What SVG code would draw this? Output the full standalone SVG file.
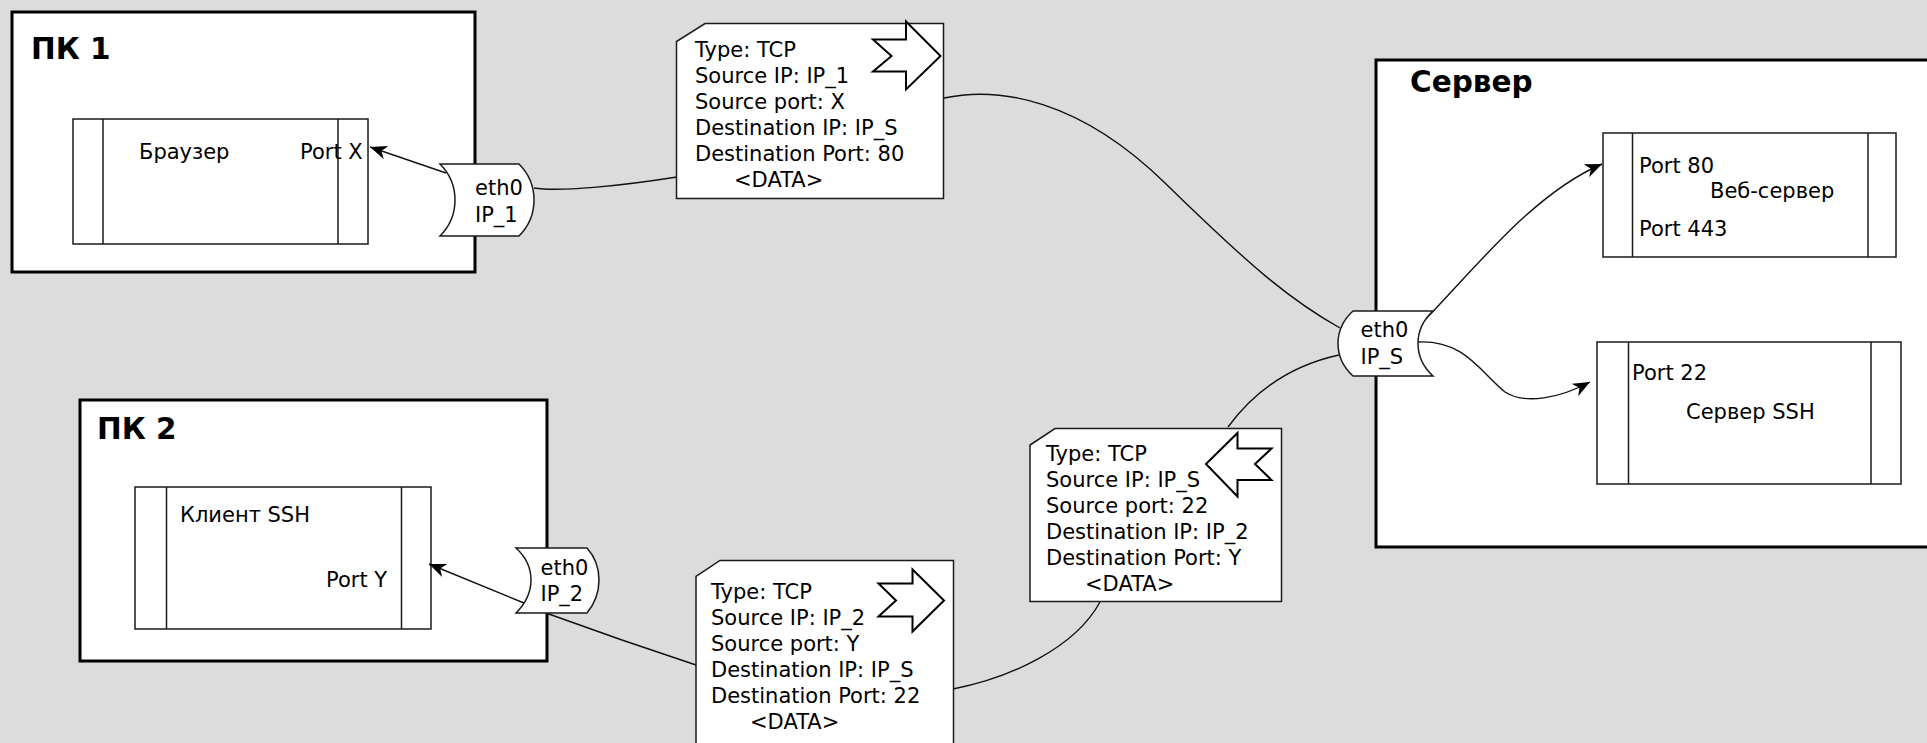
<svg xmlns="http://www.w3.org/2000/svg" width="1927" height="743" viewBox="0 0 1927 743">
<style>
text{font-family:"DejaVu Sans","Liberation Sans",sans-serif;font-size:21px;fill:#000}
.title{font-weight:bold;font-size:29.5px}
.big{fill:#fff;stroke:#000;stroke-width:3}
.app{fill:#fff;stroke:#1a1a1a;stroke-width:1.5}
.bar{fill:none;stroke:#1a1a1a;stroke-width:1.5}
.pkt{fill:#fff;stroke:#1a1a1a;stroke-width:1.5}
.dir{fill:#fff;stroke:#000;stroke-width:2;stroke-linejoin:miter}
.eth{fill:#fff;stroke:#1a1a1a;stroke-width:1.5}
.wire{fill:none;stroke:#111;stroke-width:1.4}
.arr{fill:none;stroke:#111;stroke-width:1.4;marker-end:url(#ah)}
</style>
<defs>
<marker id="ah" viewBox="0 0 18 14" refX="17" refY="7" markerWidth="18" markerHeight="14" markerUnits="userSpaceOnUse" orient="auto">
<path d="M0,0 L17,7 L0,14 L5,7 Z" fill="#000"/>
</marker>
</defs>
<rect x="0" y="0" width="1927" height="743" fill="#dcdcdc"/>

<g id="pc1">
<rect class="big" x="12" y="12" width="463" height="260"/>
<text class="title" x="31" y="59">ПК 1</text>
</g>
<g id="pc2">
<rect class="big" x="80" y="400" width="467" height="261"/>
<text class="title" x="97" y="439">ПК 2</text>
</g>
<g id="server">
<rect class="big" x="1376" y="60" width="620" height="487"/>
<text class="title" x="1410" y="92">Сервер</text>
</g>

<g id="browser">
<rect class="app" x="73" y="119" width="295" height="125"/>
<path class="bar" d="M103,119 V244 M338,119 V244"/>
<text x="139" y="159">Браузер</text>
<text x="300" y="159">Port X</text>
</g>
<g id="ssh-client">
<rect class="app" x="135" y="487" width="296" height="142"/>
<path class="bar" d="M166.5,487 V629 M401.5,487 V629"/>
<text x="180" y="522">Клиент SSH</text>
<text x="326" y="587">Port Y</text>
</g>
<g id="web-server">
<rect class="app" x="1603" y="133" width="293" height="124"/>
<path class="bar" d="M1632.5,133 V257 M1868,133 V257"/>
<text x="1639" y="173">Port 80</text>
<text x="1710" y="198">Веб-сервер</text>
<text x="1639" y="236">Port 443</text>
</g>
<g id="ssh-server">
<rect class="app" x="1597" y="342" width="304" height="142"/>
<path class="bar" d="M1628.5,342 V484 M1871,342 V484"/>
<text x="1632" y="380">Port 22</text>
<text x="1686" y="419">Сервер SSH</text>
</g>

<g id="connectors">
<path class="wire" d="M534,188 C560,192 620,186 677,177"/>
<path class="wire" d="M944,98 C1000,86 1080,100 1165,183 S1290,300 1340,328"/>
<path class="wire" d="M1228,427 Q1270,370 1339,355"/>
<path class="wire" d="M953,689 C1010,678 1075,648 1100,602"/>
<path class="wire" d="M546,613 Q620,640 696,665"/>
<path class="arr" d="M446,173 L370,147"/>
<path class="arr" d="M524,603 L429,564"/>
<path class="arr" d="M1418,327 C1470,275 1530,195 1602,164"/>
<path class="arr" d="M1418,342 C1465,340 1480,372 1505,392 C1525,405 1560,398 1590,382"/>
</g>

<g id="eth0-ip1">
<path class="eth" d="M440,164 L519,164 C531,176 534,188 534,200 C534,212 531,224 519,236 L440,236 C452,224 455,212 455,200 C455,188 452,176 440,164 Z"/>
<text x="475" y="195">eth0</text>
<text x="475" y="222">IP_1</text>
</g>
<g id="eth0-ip2">
<path class="eth" d="M516,548 L587,548 C596,558 599,568 599,580 C599,592 596,602 587,613 L516,613 C527,602 531,592 531,580 C531,568 527,558 516,548 Z"/>
<text x="540.5" y="575">eth0</text>
<text x="540.5" y="601">IP_2</text>
</g>
<g id="eth0-ips">
<path class="eth" d="M1353,311 L1433,311 C1421,322 1418,333 1418,343.5 C1418,354 1421,365 1433,376 L1353,376 C1341,365 1338,354 1338,343.5 C1338,333 1341,322 1353,311 Z"/>
<text x="1360.5" y="337">eth0</text>
<text x="1360.5" y="364">IP_S</text>
</g>

<g id="packet1">
<path class="pkt" d="M705,23.5 L943.5,23.5 L943.5,198.5 L676.5,198.5 L676.5,41.5 Z"/>
<path class="dir" d="M873,39.5 L906,39.5 L906,21.5 L940.5,56 L906,89.5 L906,71.5 L873,71.5 L891.5,56 Z"/>
<text><tspan x="695" y="57.3">Type: TCP</tspan><tspan x="695" y="83">Source IP: IP_1</tspan><tspan x="695" y="108.8">Source port: X</tspan><tspan x="695" y="134.5">Destination IP: IP_S</tspan><tspan x="695" y="160.5">Destination Port: 80</tspan><tspan x="734" y="186.5">&lt;DATA&gt;</tspan></text>
</g>
<g id="packet2">
<path class="pkt" d="M1055,428.5 L1281.5,428.5 L1281.5,601.5 L1030,601.5 L1030,445 Z"/>
<path class="dir" d="M1206,464 L1237.5,433 L1237.5,448.5 L1271.5,448.5 L1255,464 L1271.5,480 L1237.5,480 L1237.5,496.5 Z"/>
<text><tspan x="1046" y="460.7">Type: TCP</tspan><tspan x="1046" y="486.5">Source IP: IP_S</tspan><tspan x="1046" y="512.5">Source port: 22</tspan><tspan x="1046" y="538.5">Destination IP: IP_2</tspan><tspan x="1046" y="564.7">Destination Port: Y</tspan><tspan x="1085" y="590.5">&lt;DATA&gt;</tspan></text>
</g>
<g id="packet3">
<path class="pkt" d="M720,560.5 L953.5,560.5 L953.5,760 L696,760 L696,576.5 Z"/>
<path class="dir" d="M878.5,583.5 L912.5,583.5 L912.5,569.5 L944,600.5 L912.5,631.5 L912.5,616.5 L878.5,616.5 L896,600.5 Z"/>
<text><tspan x="711" y="599">Type: TCP</tspan><tspan x="711" y="624.5">Source IP: IP_2</tspan><tspan x="711" y="650.5">Source port: Y</tspan><tspan x="711" y="676.5">Destination IP: IP_S</tspan><tspan x="711" y="702.5">Destination Port: 22</tspan><tspan x="750" y="728.5">&lt;DATA&gt;</tspan></text>
</g>
</svg>
